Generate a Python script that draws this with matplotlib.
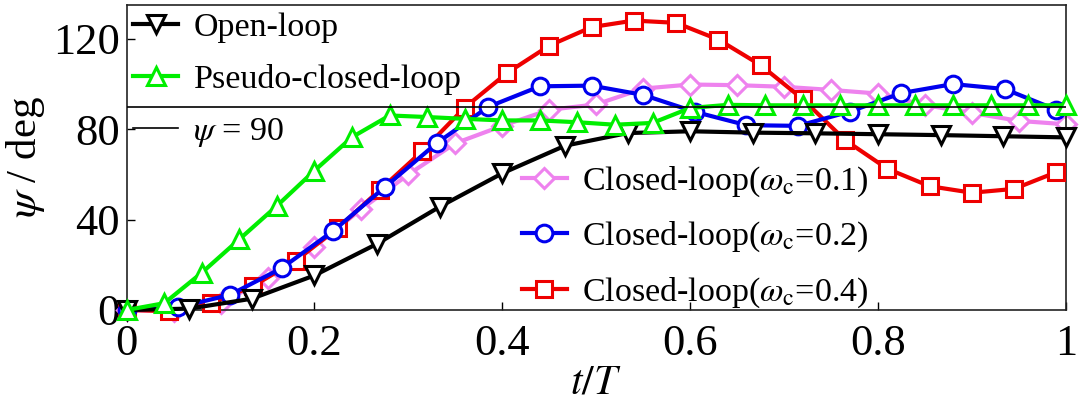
import matplotlib
matplotlib.use('Agg')
import matplotlib.pyplot as plt
import numpy as np

plt.rcParams['font.family'] = ['Liberation Serif', 'DejaVu Serif']
plt.rcParams['mathtext.fontset'] = 'stix'

# sample times of each curve (t/T)
t_open = np.linspace(0, 1, 16)
t_pseudo = np.linspace(0, 1, 26)
t_c01 = np.linspace(0, 1, 21)
t_c02 = np.linspace(0, 0.99, 19)
t_c04 = np.linspace(0, 0.99, 23)

psi_open = [0, 0.6, 5, 15.3, 29.3, 45.7, 60.5, 72.7, 78.3, 79.1,
            78.5, 78.2, 77.8, 77.4, 76.9, 76.4]
psi_pseudo = [0, 3, 16.5, 31.3, 46.1, 61.7, 76.5, 86.1, 85.4, 84.6,
              83.9, 83.9, 83.1, 82.0, 82.8, 89.4, 90.8, 90.6, 90.6, 90.6,
              90.6, 90.6, 90.6, 90.6, 90.6, 90.6]
psi_c01 = [0, -0.5, 3, 14, 28, 44.7, 60, 73.8, 81.5, 88.6,
           91, 98, 99.8, 99.5, 98.8, 97.4, 95.8, 90.7, 87.2, 83.7, 82.2]
psi_c02 = [0, 1.2, 6.7, 18.5, 35, 54.4, 73.8, 89.9, 99, 99.3,
           95.2, 87.7, 81.8, 81.5, 87.8, 96, 100, 97.8, 88.6]
psi_c04 = [0, -0.5, 3, 10.7, 21.8, 36.3, 53.3, 70.4, 89.6, 104.9,
           117, 125.2, 128.1, 127.1, 119.7, 108.4, 93.3, 75.2, 62.5, 54.8,
           51.9, 53.6, 61]

fig = plt.figure(figsize=(10.8, 4.05), dpi=100)
ax = fig.add_axes([0.1173, 0.2346, 0.8695, 0.7531])

lw = 3
mew = 2.2
style = dict(lw=lw, mfc='white', mew=mew, clip_on=False)
l_open, = ax.plot(t_open, psi_open, color='black', marker='v', ms=13,
                  zorder=5, label='Open-loop', **style)
l_pseudo, = ax.plot(t_pseudo, psi_pseudo, color='#00ee00', marker='^', ms=13,
                    zorder=6, label='Pseudo-closed-loop', **style)
l_ref = ax.axhline(90, color='black', lw=1.2, zorder=7, label=r'$\psi$ = 90')
l_c01, = ax.plot(t_c01, psi_c01, color='violet', marker='D', ms=10.5,
                 zorder=2, label=r'Closed-loop($\omega_{\rm c}$=0.1)', **style)
l_c02, = ax.plot(t_c02, psi_c02, color='#0000ee', marker='o', ms=12,
                 zorder=4, label=r'Closed-loop($\omega_{\rm c}$=0.2)', **style)
l_c04, = ax.plot(t_c04, psi_c04, color='#ee0000', marker='s', ms=11,
                 zorder=3, label=r'Closed-loop($\omega_{\rm c}$=0.4)', **style)

ax.set_xlim(0, 1)
ax.set_ylim(0, 135)
ax.set_xticks([0, 0.2, 0.4, 0.6, 0.8, 1])
ax.set_xticklabels(['0', '0.2', '0.4', '0.6', '0.8', '1'])
ax.set_yticks([0, 40, 80, 120])
ax.tick_params(direction='in', length=6, width=1, labelsize=32)
ax.tick_params(axis='x', pad=10)
ax.tick_params(axis='y', pad=5)
for s in ax.spines.values():
    s.set_linewidth(1.2)
    s.set_color('#222222')

ax.set_xlabel(r'$t/T$', fontsize=30, labelpad=0)
ax.set_ylabel(r'$\psi$ / deg', fontsize=31, labelpad=4)

leg_kw = dict(frameon=False, fontsize=24.5, handlelength=1.32,
              handletextpad=0.45, labelspacing=0.62, borderpad=0,
              borderaxespad=0)
leg1 = ax.legend(handles=[l_open, l_pseudo, l_ref], loc='upper left',
                 bbox_to_anchor=(0.007, 0.977), **leg_kw)
ax.add_artist(leg1)
ax.legend(handles=[l_c01, l_c02, l_c04], loc='upper left',
          bbox_to_anchor=(0.421, 0.478), **leg_kw)

plt.savefig('out.png', dpi=100)
